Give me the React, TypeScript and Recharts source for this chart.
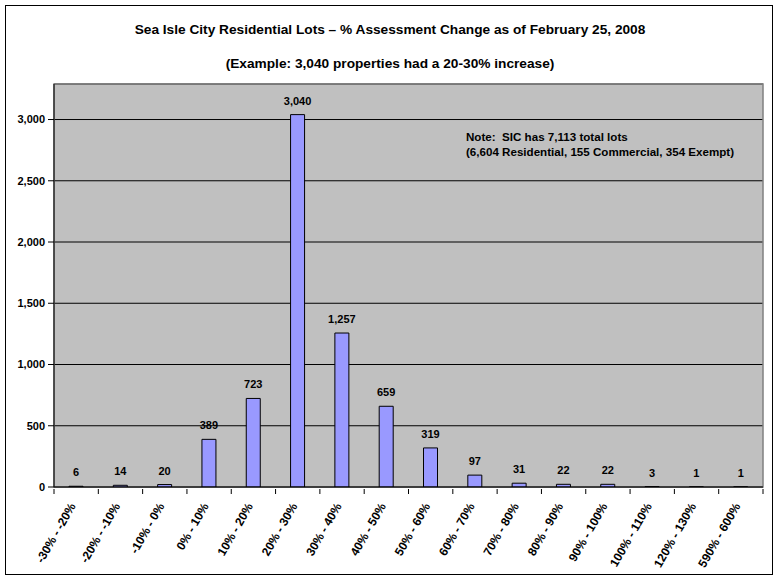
import React from 'react';
import {
  BarChart,
  Bar,
  XAxis,
  YAxis,
  CartesianGrid,
  LabelList,
  ReferenceArea,
} from 'recharts';

// Sea Isle City residential lots, count per % assessment change bucket
const buckets = [
  '-30% - -20%', '-20% - -10%', '-10% - 0%', '0% - 10%', '10% - 20%', '20% - 30%',
  '30% - 40%', '40% - 50%', '50% - 60%', '60% - 70%', '70% - 80%', '80% - 90%',
  '90% - 100%', '100% - 110%', '120% - 130%', '590% - 600%',
];
const lots = [6, 14, 20, 389, 723, 3040, 1257, 659, 319, 97, 31, 22, 22, 3, 1, 1];
const yTicks = [0, 500, 1000, 1500, 2000, 2500, 3000];

const TITLE = 'Sea Isle City Residential Lots \u2013 % Assessment Change as of February 25, 2008';
const SUBTITLE = '(Example: 3,040 properties had a 20-30% increase)';
const NOTE_1 = 'Note:  SIC has 7,113 total lots';
const NOTE_2 = '(6,604 Residential, 155 Commercial, 354 Exempt)';

const FONT = '"Liberation Sans", Arial, sans-serif';

const data = buckets.map((b, i) => ({ bucket: b, lots: lots[i] }));

const fmt = (v: number) => v.toLocaleString('en-US');

// category label centred under the bar, tick marks on category boundaries (Excel style)
const BucketTick = (props: any) => {
  const { x, y, payload, index, visibleTicksCount } = props;
  const half = payload?.offset ?? 22;
  return (
    <g>
      <line x1={x - half} y1={y - 8} x2={x - half} y2={y - 3} stroke="#000" />
      {index === visibleTicksCount - 1 ? (
        <line x1={x + half} y1={y - 8} x2={x + half} y2={y - 3} stroke="#000" />
      ) : null}
      <text
        x={x}
        y={y}
        dy={9}
        textAnchor="end"
        transform={`rotate(-60, ${x}, ${y + 9})`}
        fontFamily={FONT}
        fontSize={12}
        fontWeight="bold"
        fill="#000"
      >
        {payload.value}
      </text>
    </g>
  );
};

const titleStyle: React.CSSProperties = {
  position: 'absolute',
  left: 0,
  width: 780,
  textAlign: 'center',
  fontFamily: FONT,
  fontWeight: 'bold',
  fontSize: 13.7,
  lineHeight: '16px',
};

export default function App() {
  return (
    <div style={{ position: 'absolute', left: 0, top: 0, width: 780, height: 581, background: '#fff' }}>
      <div
        style={{
          position: 'absolute',
          left: 5,
          top: 5,
          width: 766,
          height: 568,
          border: '1.5px solid #000',
        }}
      />
      <div style={{ ...titleStyle, top: 22 }}>{TITLE}</div>
      <div style={{ ...titleStyle, top: 56 }}>{SUBTITLE}</div>
      <BarChart
        width={780}
        height={581}
        data={data}
        margin={{ top: 84, right: 17, left: 4, bottom: 4 }}
        barCategoryGap={0}
        style={{ position: 'absolute', left: 0, top: 0 }}
      >
        <CartesianGrid vertical={false} fill="#C0C0C0" stroke="#000" strokeOpacity={1} />
        <ReferenceArea
          x1={buckets[0]}
          x2={buckets[buckets.length - 1]}
          y1={0}
          y2={3290}
          fill="none"
          stroke="#808080"
          strokeWidth={1.5}
          ifOverflow="visible"
        />
        <XAxis
          dataKey="bucket"
          interval={0}
          height={90}
          tickLine={false}
          tickSize={8}
          stroke="#000"
          tick={<BucketTick />}
        />
        <YAxis
          width={50}
          domain={[0, 3290]}
          ticks={yTicks}
          allowDataOverflow
          tickFormatter={fmt}
          stroke="#000"
          tickSize={6}
          tickMargin={3}
          tick={{ fontFamily: FONT, fontSize: 11, fontWeight: 'bold', fill: '#000' }}
        />
        <Bar dataKey="lots" fill="#9999FF" stroke="#000" strokeWidth={1} barSize={14} isAnimationActive={false}>
          <LabelList
            dataKey="lots"
            position="top"
            offset={10}
            formatter={(v: any) => fmt(Number(v))}
            style={{ fontFamily: FONT, fontSize: 11, fontWeight: 'bold', fill: '#000' }}
          />
        </Bar>
      </BarChart>
      <div
        style={{
          position: 'absolute',
          left: 466,
          top: 129,
          fontFamily: FONT,
          fontWeight: 'bold',
          fontSize: 11.6,
          lineHeight: '15px',
          whiteSpace: 'pre',
        }}
      >
        {NOTE_1}
        {'\n'}
        {NOTE_2}
      </div>
    </div>
  );
}
